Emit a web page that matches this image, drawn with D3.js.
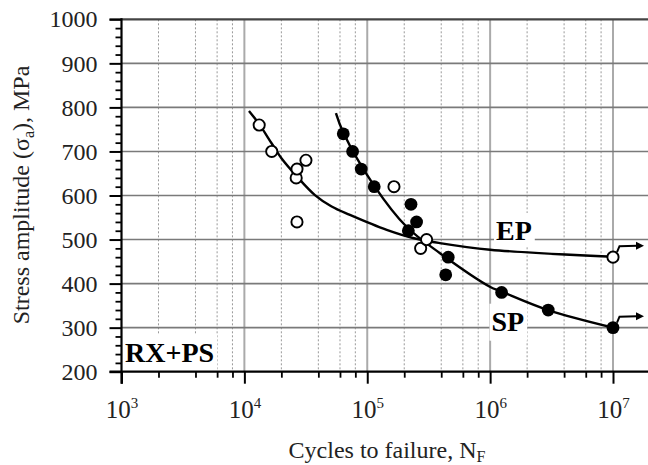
<!DOCTYPE html>
<html>
<head>
<meta charset="utf-8">
<script src="https://cdn.jsdelivr.net/npm/d3@7"></script>
<style>
  body { margin: 0; background: #fff; }
  svg { display: block; font-family: "Liberation Serif", "Times New Roman", serif; }
</style>
</head>
<body>
<svg width="648" height="465"></svg>
<script>
// EP (open circles) and SP (filled circles) test points
var epN = [1.32e4, 1.67e4, 2.64e4, 2.68e4, 3.17e4, 2.68e4, 1.65e5, 2.72e5, 3.04e5, 1e7];
var epS = [760, 700, 640, 660, 680, 540, 620, 480, 500, 460];
var spN = [6.38e4, 7.6e4, 8.93e4, 1.14e5, 2.27e5, 2.52e5, 2.16e5, 4.56e5, 4.35e5, 1.24e6, 2.97e6, 1e7];
var spS = [740, 700, 660, 620, 580, 540, 520, 460, 420, 380, 340, 300];

// fitted curves
var epFitN = [1.09e4, 1.32e4, 1.67e4, 2.01e4, 2.68e4, 3.75e4, 5.13e4, 7.23e4, 1.44e5, 2.4e5, 3.9e5, 1e6, 1e7];
var epFitS = [792, 762, 718, 684, 643, 601, 575, 556, 522, 503, 492, 477, 461];
var spFitN = [5.56e4, 6.38e4, 1.14e5, 2.09e5, 3.91e5, 9.95e5, 1.24e6, 2.97e6, 9.75e6];
var spFitS = [787, 743, 622, 529, 469, 393, 382, 340, 301];

// run-outs (arrows)
var runN = [1e7, 1e7];
var runS = [460, 300];

var yMajor = [200, 300, 400, 500, 600, 700, 800, 900, 1000];
var xMajor = [1e3, 1e4, 1e5, 1e6, 1e7];
var xExp = ["3", "4", "5", "6", "7"];

var svg = d3.select("svg");
var W = 648;

var x = d3.scaleLog().domain([1e3, 1e7]).range([121.5, 613]);
var y = d3.scaleLinear().domain([200, 1000]).range([371.7, 19.3]);

var yMinor = d3.range(200, 1000, 20).filter(function(d){ return d % 100 != 0; });
var xMinor = [];
for(var e=3;e<7;e++)
{
  [2, 4, 6, 8].forEach(function(m){ xMinor.push(m*Math.pow(10, e)); });
}
xMinor.push(2e7);

var x0 = x(1e3), y0 = y(200), yTop = y(1000);

// dotted minor verticals
svg.append("g").selectAll("line")
  .data(xMinor.filter(function(d){ return x(d) < W; })).enter().append("line")
  .attr("x1", d => x(d)).attr("x2", d => x(d))
  .attr("y1", yTop).attr("y2", y0)
  .attr("stroke", "#999").attr("stroke-width", 1).attr("stroke-dasharray", "2,2");

// solid decade verticals
svg.append("g").selectAll("line")
  .data(xMajor.slice(1)).enter().append("line")
  .attr("x1", d => x(d)).attr("x2", d => x(d))
  .attr("y1", yTop).attr("y2", y0)
  .attr("stroke", "#aaa").attr("stroke-width", 2);

// horizontal grid
svg.append("g").selectAll("line")
  .data(yMajor.slice(1, -1)).enter().append("line")
  .attr("x1", x0).attr("x2", W)
  .attr("y1", d => y(d)).attr("y2", d => y(d))
  .attr("stroke", "#7a7a7a").attr("stroke-width", 1.6);

// top frame line
svg.append("line")
  .attr("x1", x0 - 12).attr("x2", W).attr("y1", yTop).attr("y2", yTop)
  .attr("stroke", "#444").attr("stroke-width", 2.2);

// labels with white boxes
function boxLabel(txt, lx, ly, pad)
{
  var t = svg.append("text").attr("x", lx).attr("y", ly)
    .attr("font-size", 28).attr("font-weight", "bold").text(txt);
  var b = t.node().getBBox();
  svg.insert("rect", "text")
    .attr("x", b.x - pad[0]).attr("y", b.y - pad[1])
    .attr("width", b.width + pad[0] + pad[2]).attr("height", b.height + pad[1] + pad[3])
    .attr("fill", "#fff");
}
boxLabel("RX+PS", 125, 362, [2, 2, 3, 8]);
boxLabel("EP", 496, 240, [2, 2, 3, 1]);
boxLabel("SP", 491.5, 330.7, [2, 2, 3, 4]);

// axes
var yAxis = svg.append("g").attr("transform", "translate(" + x0 + ",0)")
  .call(d3.axisLeft(y).tickValues(yMajor).tickSize(12).tickSizeOuter(0).tickPadding(12)
        .tickFormat(d3.format("d")));
yAxis.select(".domain").remove();
yAxis.selectAll("line").attr("stroke", "#000").attr("stroke-width", 2);
yAxis.selectAll("text").attr("font-size", 24).attr("font-family", "Liberation Serif").attr("fill", "#222");

var yAxisMinor = svg.append("g").attr("transform", "translate(" + x0 + ",0)")
  .call(d3.axisLeft(y).tickValues(yMinor).tickSize(6).tickFormat(""));
yAxisMinor.select(".domain").remove();
yAxisMinor.selectAll("line").attr("stroke", "#000").attr("stroke-width", 1.8);

var xAxis = svg.append("g").attr("transform", "translate(0," + y0 + ")")
  .call(d3.axisBottom(x).tickValues(xMajor).tickSize(12).tickSizeOuter(0).tickFormat(""));
xAxis.select(".domain").remove();
xAxis.selectAll("line").attr("stroke", "#000").attr("stroke-width", 2);
xAxis.selectAll(".tick").each(function(d, i){
  var t = d3.select(this).append("text")
    .attr("y", 46).attr("fill", "#222").attr("font-size", 25)
    .attr("font-family", "Liberation Serif").attr("text-anchor", "middle");
  t.append("tspan").text("10");
  t.append("tspan").attr("font-size", 15).attr("dy", -10).text(xExp[i]);
});

var xAxisMinor = svg.append("g").attr("transform", "translate(0," + y0 + ")")
  .call(d3.axisBottom(x).tickValues(xMinor.filter(function(d){ return x(d) < W; })).tickSize(6).tickFormat(""));
xAxisMinor.select(".domain").remove();
xAxisMinor.selectAll("line").attr("stroke", "#000").attr("stroke-width", 1.8);

// axis lines
svg.append("line").attr("x1", x0).attr("x2", x0).attr("y1", yTop - 1).attr("y2", y0 + 12)
  .attr("stroke", "#000").attr("stroke-width", 2.2);
svg.append("line").attr("x1", x0 - 12).attr("x2", W).attr("y1", y0).attr("y2", y0)
  .attr("stroke", "#000").attr("stroke-width", 2.2);

// fitted curves
var line = d3.line().x(d => x(d[0])).y(d => y(d[1])).curve(d3.curveCatmullRom.alpha(0.5));
svg.append("path").datum(d3.zip(epFitN, epFitS)).attr("d", line)
  .attr("fill", "none").attr("stroke", "#000").attr("stroke-width", 2.4);
svg.append("path").datum(d3.zip(spFitN, spFitS)).attr("d", line)
  .attr("fill", "none").attr("stroke", "#000").attr("stroke-width", 2.4);

// run-out arrows
var ra = svg.append("g").selectAll("g").data(d3.zip(runN, runS)).enter().append("g")
  .attr("transform", d => "translate(" + x(d[0]) + "," + y(d[1]) + ")");
ra.append("path").attr("d", "M4,-5 L6.5,-11 L24,-11.5")
  .attr("fill", "none").attr("stroke", "#000").attr("stroke-width", 2);
ra.append("path").attr("d", "M23,-15.5 L31,-11.5 L23,-7.5 Z").attr("fill", "#000");

// points
svg.append("g").selectAll("circle").data(d3.zip(epN, epS)).enter().append("circle")
  .attr("cx", d => x(d[0])).attr("cy", d => y(d[1])).attr("r", 5.6)
  .attr("fill", "#fff").attr("stroke", "#000").attr("stroke-width", 1.9);
svg.append("g").selectAll("circle").data(d3.zip(spN, spS)).enter().append("circle")
  .attr("cx", d => x(d[0])).attr("cy", d => y(d[1])).attr("r", 6.4)
  .attr("fill", "#000");

// axis titles
var yt = svg.append("text")
  .attr("transform", "translate(29,195) rotate(-90)")
  .attr("text-anchor", "middle").attr("font-size", 24).attr("fill", "#222");
yt.append("tspan").text("Stress amplitude (σ");
yt.append("tspan").attr("font-size", 16).attr("dy", 5).text("a");
yt.append("tspan").attr("dy", -5).text("), MPa");

var xt = svg.append("text").attr("x", 387).attr("y", 458)
  .attr("text-anchor", "middle").attr("font-size", 24).attr("fill", "#222");
xt.append("tspan").text("Cycles to failure, N");
xt.append("tspan").attr("font-size", 16).attr("dy", 4).text("F");
</script>
</body>
</html>
